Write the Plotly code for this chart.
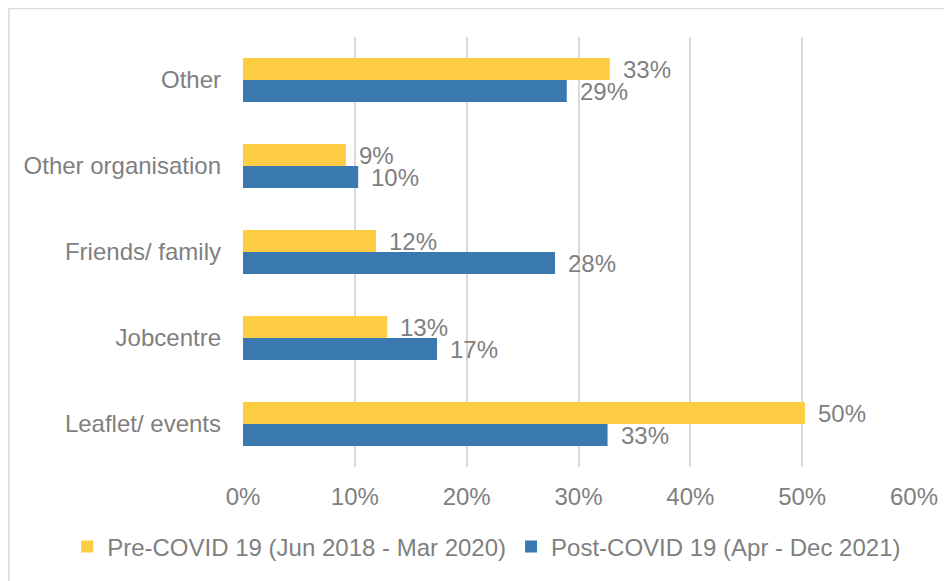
import plotly.graph_objects as go

categories = ["Leaflet/ events", "Jobcentre", "Friends/ family", "Other organisation", "Other"]
pre_covid = [0.5025, 0.129, 0.119, 0.092, 0.328]
post_covid = [0.326, 0.1735, 0.279, 0.103, 0.2895]
pre_name = "Pre-COVID 19 (Jun 2018 - Mar 2020)"
post_name = "Post-COVID 19 (Apr - Dec 2021)"
x_ticks = [0, 0.1, 0.2, 0.3, 0.4, 0.5, 0.6]

YELLOW = "#FFCD44"
BLUE = "#3A78B0"
GREY = "#7F7F7F"
FONT = "Liberation Sans, Arial, sans-serif"
FS = 24

fig = go.Figure()
fig.add_trace(go.Bar(y=categories, x=post_covid, orientation="h", name=post_name,
                     marker=dict(color=BLUE, line=dict(width=0)), legendrank=2))
fig.add_trace(go.Bar(y=categories, x=pre_covid, orientation="h", name=pre_name,
                     marker=dict(color=YELLOW, line=dict(width=0)), legendrank=1))

annotations = []
for cat, v in zip(categories, pre_covid):
    annotations.append(dict(x=v, y=cat, xref="x", yref="y", text=f"{round(v*100)}%",
                            showarrow=False, xanchor="left", yanchor="middle",
                            xshift=11, yshift=11, font=dict(size=FS, color=GREY, family=FONT)))
for cat, v in zip(categories, post_covid):
    annotations.append(dict(x=v, y=cat, xref="x", yref="y", text=f"{round(v*100)}%",
                            showarrow=False, xanchor="left", yanchor="middle",
                            xshift=11, yshift=-11, font=dict(size=FS, color=GREY, family=FONT)))

fig.update_layout(
    template="none",
    width=944, height=573,
    margin=dict(l=235, r=38, t=29, b=114, autoexpand=False),
    paper_bgcolor="white", plot_bgcolor="white",
    barmode="group", bargap=0.488, bargroupgap=0,
    font=dict(family=FONT, size=FS, color=GREY),
    showlegend=True,
    legend=dict(orientation="h", xref="paper", yref="paper",
                x=-0.262, xanchor="left", y=-0.186, yanchor="middle",
                font=dict(size=FS, color=GREY), bgcolor="rgba(0,0,0,0)"),
    annotations=annotations,
    shapes=[dict(type="rect", xref="paper", yref="paper", x0=-0.3489, x1=1.08,
                 y0=-0.3, y1=1.0663, line=dict(color="#D9D9D9", width=1.5),
                 fillcolor="rgba(0,0,0,0)", layer="below")],
)
fig.update_xaxes(range=[0, 0.6], tickvals=x_ticks, tickformat=".0%", automargin=False,
                 showgrid=True, gridcolor="#D9D9D9", gridwidth=1.5,
                 zeroline=False, showline=False, ticks="", ticklabelstandoff=13,
                 tickfont=dict(size=FS, color=GREY))
fig.update_yaxes(showgrid=False, zeroline=False, showline=False, ticks="", automargin=False,
                 ticklabelstandoff=21, tickfont=dict(size=FS, color=GREY))

fig.write_html("out.html")
